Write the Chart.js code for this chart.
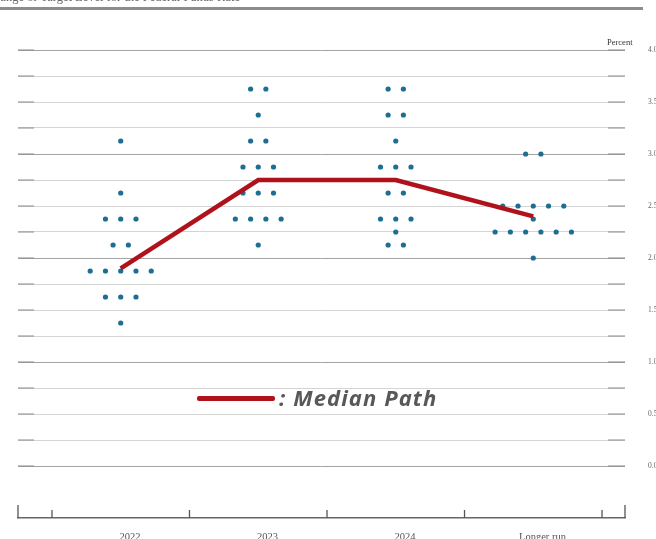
<!DOCTYPE html>
<html>
<head>
<meta charset="utf-8">
<script src="https://cdn.jsdelivr.net/npm/chart.js@4/dist/chart.umd.min.js"></script>
<style>
    body { margin: 0; background: #fff; }
    #wrap { position: relative; width: 656px; height: 539px; overflow: hidden; background: #fff; }
    #dotPlot { position: absolute; left: 0; top: 0; }
    #title { position: absolute; right: 416px; top: -9.5px; font: 12.5px 'Liberation Serif', serif; color: #666; white-space: nowrap; line-height: 12px; }
    #rule { position: absolute; left: 0; top: 7px; width: 643px; height: 3px; background: #8c8c8c; }
    #unit { position: absolute; left: 607px; top: 37px; font: 8.5px 'Liberation Serif', serif; color: #333; }
    #legendBar { position: absolute; left: 197px; top: 396px; width: 78px; height: 5px; background: #b0121b; border-radius: 2px; }
    #legendText { position: absolute; left: 279px; top: 386px; font: italic bold 22px 'Open Sans', sans-serif; letter-spacing: 1.1px; line-height: 22px; color: #585858; white-space: nowrap; }
</style>
</head>
<body>
<div id="wrap">
    <canvas id="dotPlot" width="656" height="539"></canvas>
    <div id="title"></div>
    <div id="rule"></div>
    <div id="unit"></div>
    <div id="legendBar"></div>
    <div id="legendText"></div>
</div>
<script>
    const titleText = 'Midpoint of Target Range or Target Level for the Federal Funds Rate'
    const unitText = 'Percent'
    const legendLabel = ': Median Path'

    const categories = ['2022', '2023', '2024', 'Longer run']

    // [rate, number of participants]
    const dots2022 = [[3.125, 1], [2.625, 1], [2.375, 3], [2.125, 2], [1.875, 5], [1.625, 3], [1.375, 1]]
    const dots2023 = [[3.625, 2], [3.375, 1], [3.125, 2], [2.875, 3], [2.625, 3], [2.375, 4], [2.125, 1]]
    const dots2024 = [[3.625, 2], [3.375, 2], [3.125, 1], [2.875, 3], [2.625, 2], [2.375, 3], [2.25, 1], [2.125, 2]]
    const dotsLongerRun = [[3.0, 2], [2.5, 5], [2.375, 1], [2.25, 6], [2.0, 1]]

    const medians = [1.9, 2.75, 2.75, 2.4]

    const yTicks = [0, 0.25, 0.5, 0.75, 1, 1.25, 1.5, 1.75, 2, 2.25, 2.5, 2.75, 3, 3.25, 3.5, 3.75, 4]

    document.getElementById('title').textContent = titleText
    document.getElementById('unit').textContent = unitText
    document.getElementById('legendText').textContent = legendLabel

    const dotSpacing = 0.111

    function buildDots(rows, center) {
        let points = []
        rows.forEach(([rate, n]) => {
            for (let j = 0; j < n; j++) {
                points.push({ x: center + (j - (n - 1) / 2) * dotSpacing, y: rate })
            }
        })
        return points
    }

    let dotPoints = [dots2022, dots2023, dots2024, dotsLongerRun]
        .map((rows, i) => buildDots(rows, i + 0.5))
        .flat()

    let medianPoints = medians.map((m, i) => ({ x: i + 0.5, y: m }))

    const axisMarks = {
        id: 'axisMarks',
        beforeDatasetsDraw(chart) {
            const { ctx, chartArea, scales } = chart
            ctx.save()
            ctx.strokeStyle = '#8a8a8a'
            ctx.lineWidth = 1.2
            scales.y.ticks.forEach(t => {
                let py = scales.y.getPixelForValue(t.value)
                ctx.beginPath()
                ctx.moveTo(chartArea.left, py)
                ctx.lineTo(chartArea.left + 16, py)
                ctx.moveTo(chartArea.right - 17, py)
                ctx.lineTo(chartArea.right, py)
                ctx.stroke()
            })
            ctx.strokeStyle = '#555'
            ctx.lineWidth = 1.3
            let bottom = chartArea.bottom
            scales.x.ticks.forEach(t => {
                let px = scales.x.getPixelForValue(t.value)
                ctx.beginPath()
                ctx.moveTo(px, bottom - 8)
                ctx.lineTo(px, bottom)
                ctx.stroke()
            })
            ;[chartArea.left, chartArea.right].forEach(px => {
                ctx.beginPath()
                ctx.moveTo(px, bottom - 13)
                ctx.lineTo(px, bottom)
                ctx.stroke()
            })
            ctx.restore()
        }
    }

    window.dotPlot = new Chart(document.getElementById('dotPlot'), {
        type: 'scatter',
        data: {
            datasets: [
                {
                    type: 'line',
                    label: 'Median Path',
                    data: medianPoints,
                    borderColor: '#b0121b',
                    borderWidth: 4.5,
                    pointRadius: 0,
                    fill: false,
                    tension: 0,
                    order: 1
                },
                {
                    label: 'Participants',
                    data: dotPoints,
                    pointRadius: 2.6,
                    pointBackgroundColor: '#1d6e94',
                    pointBorderWidth: 0,
                    order: 2
                }
            ]
        },
        options: {
            responsive: false,
            animation: false,
            plugins: {
                legend: { display: false },
                tooltip: { enabled: false },
                title: { display: false }
            },
            layout: {
                padding: { left: 18, right: 0, top: 50, bottom: 0 }
            },
            scales: {
                x: {
                    type: 'linear',
                    min: -0.247,
                    max: 4.167,
                    afterBuildTicks: scale => {
                        scale.ticks = [0, 1, 2, 3, 4].map(v => ({ value: v }))
                    },
                    afterFit: scale => { scale.height = 21 },
                    ticks: {
                        autoSkip: false,
                        maxRotation: 0,
                        padding: 13,
                        labelOffset: 78,
                        color: '#555',
                        font: { family: 'Liberation Serif', size: 10.5 },
                        callback: function (value) {
                            return categories[value] ?? ''
                        }
                    },
                    grid: { display: false, drawTicks: false },
                    border: { display: true, color: '#666', width: 1.5 }
                },
                y: {
                    type: 'linear',
                    position: 'right',
                    min: -0.5,
                    max: 4,
                    afterBuildTicks: scale => {
                        scale.ticks = yTicks.map(v => ({ value: v }))
                    },
                    afterFit: scale => {
                        // the big label padding would otherwise be reserved above and below the plot too
                        scale.width = 31
                        scale.paddingTop = 0
                        scale.paddingBottom = 0
                    },
                    ticks: {
                        padding: 23,
                        color: '#666',
                        font: { family: 'Liberation Serif', size: 7.5 },
                        callback: function (value) {
                            return value % 0.5 === 0 ? value.toFixed(1) : ''
                        }
                    },
                    grid: {
                        drawTicks: false,
                        lineWidth: 1,
                        color: ctx => (ctx.tick && ctx.tick.value % 1 === 0) ? '#a3a3a3' : '#d4d4d4'
                    },
                    border: { display: false }
                }
            }
        },
        plugins: [axisMarks]
    })
</script>
</body>
</html>
